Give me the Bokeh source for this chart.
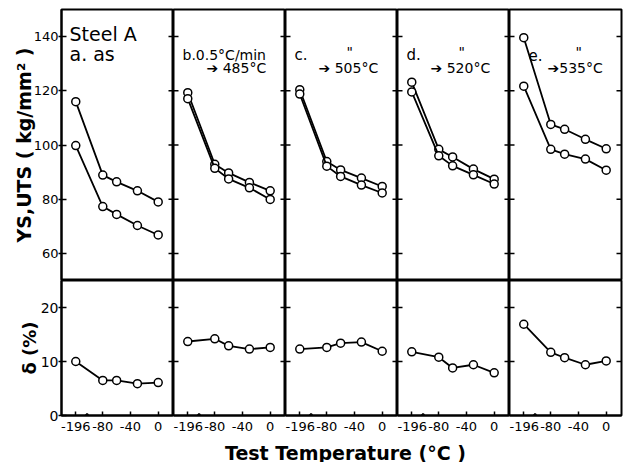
import math
from bokeh.plotting import figure
from bokeh.layouts import column, row
from bokeh.models import FixedTicker, Label, Arrow, Range1d
from bokeh.embed import file_html
from bokeh.resources import INLINE

# ---------------- data ----------------
temps = [-196, -80, -60, -30, 0]
BREAK_POS = -119          # plotted position of -196 on the broken axis
x_ticks = [-196, -80, -40, 0]
x_tick_labels = ["-196", "-80", "-40", "0"]

panels = ["a", "b", "c", "d", "e"]
uts = {
    "a": [116.0, 88.9, 86.4, 83.1, 79.0],
    "b": [119.3, 92.9, 89.7, 86.2, 83.1],
    "c": [120.4, 93.9, 90.8, 87.8, 84.7],
    "d": [123.2, 98.4, 95.6, 91.1, 87.4],
    "e": [139.6, 107.6, 105.8, 102.1, 98.6],
}
ys = {
    "a": [99.8, 77.3, 74.4, 70.3, 66.8],
    "b": [117.1, 91.4, 87.5, 84.2, 79.9],
    "c": [118.8, 92.2, 88.4, 85.2, 82.3],
    "d": [119.6, 96.0, 92.3, 89.0, 85.6],
    "e": [121.7, 98.4, 96.6, 94.8, 90.7],
}
elong = {
    "a": [10.0, 6.5, 6.5, 5.9, 6.1],
    "b": [13.7, 14.2, 12.9, 12.3, 12.6],
    "c": [12.3, 12.6, 13.4, 13.6, 11.9],
    "d": [11.8, 10.8, 8.8, 9.4, 7.9],
    "e": [16.9, 11.7, 10.7, 9.4, 10.1],
}
top_ticks = [60, 80, 100, 120, 140]
bot_ticks = [10, 20]

panel_letters = ["a.", "b.0.5°C/min", "c.", "d.", "e."]
panel_temps = ["", "➔ 485°C", "➔ 505°C", "➔ 520°C", "➔535°C"]
ditto = ["", "", '"', '"', '"']

FONT = "DejaVu Sans"
FW = 112
LEFT = 61
XR = (-139.6, 22.1)


def pos(t):
    return BREAK_POS if t == -196 else t


xs = [pos(t) for t in temps]
xt = [pos(t) for t in x_ticks]


def edge_ticks(p, ticks, left, right):
    if left:
        p.ray(x=[XR[0]] * len(ticks), y=ticks, length=5, angle=0,
              length_units="screen", line_color="black", line_width=1.5)
    if right:
        p.ray(x=[XR[1]] * len(ticks), y=ticks, length=5, angle=math.pi,
              length_units="screen", line_color="black", line_width=1.5)


def make(rowi, i):
    top = rowi == 0
    p = figure(frame_width=FW, frame_height=271 if top else 135,
               x_range=Range1d(*XR),
               y_range=Range1d(50, 150) if top else Range1d(0, 25),
               output_backend="svg", toolbar_location=None, tools="",
               min_border_left=LEFT if i == 0 else 0,
               min_border_right=2 if i == 4 else 0,
               min_border_top=9 if top else 0,
               min_border_bottom=0 if top else 24)
    p.outline_line_color = "black"
    p.outline_line_width = 2
    p.outline_line_alpha = 1
    p.grid.visible = False
    ticks = top_ticks if top else bot_ticks
    if i == 0:
        ax = p.yaxis[0]
        ax.ticker = FixedTicker(ticks=top_ticks if top else [0] + bot_ticks,
                                minor_ticks=[])
        ax.axis_line_width = 2
        ax.major_tick_line_width = 1.5
        ax.major_tick_in = 5
        ax.major_tick_out = 3
        ax.minor_tick_line_color = None
        ax.major_label_standoff = 0
        ax.major_label_text_font = FONT
        ax.major_label_text_font_size = "13px" if top else "14px"
        ax.major_label_text_color = "black"
        ax.axis_label = "YS,UTS ( kg/mm² )" if top else "δ (%)"
        ax.axis_label_text_font = FONT
        ax.axis_label_text_font_style = "bold"
        ax.axis_label_text_color = "black"
        ax.axis_label_text_font_size = "19px" if top else "18px"
        ax.axis_label_standoff = -4 if top else -2
    else:
        p.yaxis.visible = False
    edge_ticks(p, ticks, i > 0, True)
    if top:
        p.xaxis.visible = False
    else:
        ax = p.xaxis[0]
        ax.ticker = FixedTicker(ticks=xt, minor_ticks=[])
        ax.major_label_overrides = {xt[k]: x_tick_labels[k] for k in range(len(xt))}
        ax.axis_line_width = 2
        ax.major_tick_in = 4
        ax.major_tick_out = 0
        ax.major_tick_line_width = 1.5
        ax.minor_tick_line_color = None
        ax.major_label_standoff = 6
        ax.major_label_text_font = FONT
        ax.major_label_text_font_size = "13px"
        ax.major_label_text_color = "black"
    return p


def label(p, text, dx, dy, size):
    p.add_layout(Label(x=XR[0], y=p.y_range.end, x_offset=dx, y_offset=-dy,
                       text=text, text_font=FONT, text_font_size=size,
                       text_baseline="alphabetic", text_align="left",
                       text_color="black"))


tops, bots = [], []
for i, k in enumerate(panels):
    pt = make(0, i)
    pb = make(1, i)
    for series in (uts[k], ys[k]):
        pt.line(xs, series, line_color="black", line_width=1.8)
        pt.scatter(xs, series, size=8, marker="circle", fill_color="white",
                   line_color="black", line_width=1.5)
    pb.line(xs, elong[k], line_color="black", line_width=1.8)
    pb.scatter(xs, elong[k], size=8, marker="circle", fill_color="white",
               line_color="black", line_width=1.5)

    # axis break mark between -196 and -80
    xb = (BREAK_POS + temps[1]) / 2
    ux = (XR[1] - XR[0]) / FW
    uy = 25 / 135
    pts = [(-4, 0), (-2, 2), (2, -5), (4, 0)]
    for a, b in zip(pts[:-1], pts[1:]):
        pb.add_layout(Arrow(end=None, x_start=xb + a[0] * ux, y_start=a[1] * uy,
                            x_end=xb + b[0] * ux, y_end=b[1] * uy,
                            line_color="black", line_width=1.5))

    if i == 0:
        label(pt, "Steel A", 8, 24, "19px")
        label(pt, "a. as", 8, 44, "19px")
    else:
        label(pt, panel_letters[i], 19 if i == 4 else 9, 45,
              "14px" if i == 1 else "15px")
        if ditto[i]:
            label(pt, ditto[i], 61 if i < 4 else 66, 42, "14px")
        label(pt, panel_temps[i], 33 if i < 4 else 38, 58, "14px")
    tops.append(pt)
    bots.append(pb)

total_w = LEFT + 5 * FW + 2
FOOT_H = 23
foot = figure(width=total_w, height=FOOT_H, x_range=Range1d(0, total_w),
              y_range=Range1d(0, FOOT_H), output_backend="svg",
              toolbar_location=None, tools="", min_border=0)
foot.axis.visible = False
foot.grid.visible = False
foot.outline_line_color = None
foot.add_layout(Label(x=345, y=10, text="Test Temperature (°C )",
                      text_font=FONT, text_font_size="19px",
                      text_font_style="bold",
                      text_align="center", text_baseline="alphabetic",
                      text_color="black"))

layout = column(row(*tops), row(*bots), foot)
open("out.html", "w").write(file_html(layout, INLINE))
